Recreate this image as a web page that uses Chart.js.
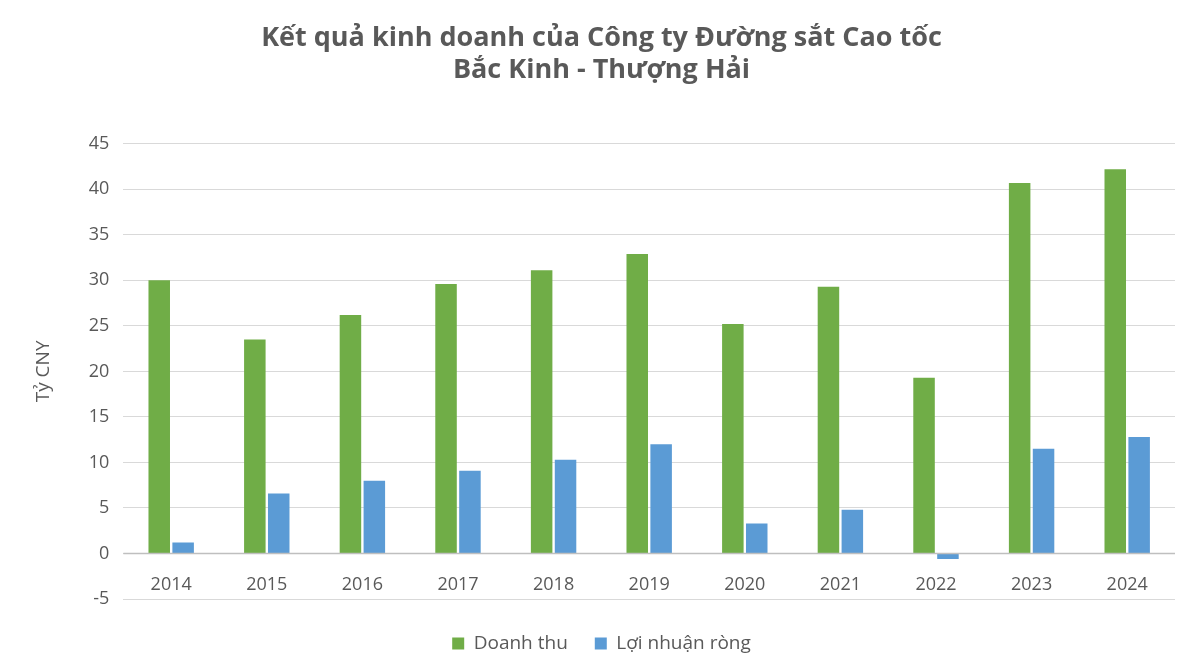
<!DOCTYPE html>
<html><head><meta charset="utf-8">
<script src="https://cdn.jsdelivr.net/npm/chart.js@4"></script>
<style>body{margin:0;background:#fff}</style></head>
<body><canvas id="c" width="1200" height="672"></canvas>
<script>
const categories=["2014","2015","2016","2017","2018","2019","2020","2021","2022","2023","2024"];
const revenue=[30.0,23.5,26.2,29.6,31.1,32.9,25.2,29.3,19.3,40.7,42.2];
const profit=[1.2,6.6,8.0,9.1,10.3,12.0,3.3,4.8,-0.6,11.5,12.8];
const yTicks={min:-5,max:45,step:5};
const labelPlugin={id:'lbl',afterDatasetsDraw(ch){
  const {ctx,scales:{x,y}}=ch;const y0=y.getPixelForValue(0);
  ctx.save();ctx.strokeStyle='#bfbfbf';ctx.lineWidth=1.3;ctx.beginPath();ctx.moveTo(ch.chartArea.left,y0);ctx.lineTo(ch.chartArea.right,y0);ctx.stroke();
  ctx.fillStyle='#595959';ctx.font='18px "Open Sans", sans-serif';ctx.textAlign='center';ctx.textBaseline='middle';
  categories.forEach((c,i)=>ctx.fillText(c,x.getPixelForValue(i),y0+31));ctx.restore();}};
new Chart(document.getElementById('c'),{type:'bar',
data:{labels:categories,datasets:[
{label:'Doanh thu',data:revenue,backgroundColor:'#70AD47',categoryPercentage:0.5,barPercentage:0.9},
{label:'Lợi nhuận ròng',data:profit,backgroundColor:'#5B9BD5',categoryPercentage:0.5,barPercentage:0.9}]},
options:{responsive:false,animation:false,
layout:{padding:{left:28,right:25,top:0,bottom:9}},
plugins:{title:{display:true,text:['Kết quả kinh doanh của Công ty Đường sắt Cao tốc','Bắc Kinh - Thượng Hải'],color:'#595959',font:{size:27,weight:'bold',family:'"Open Sans", sans-serif'},padding:{top:22,bottom:57},lineHeight:1.5},
legend:{position:'bottom',labels:{color:'#595959',boxWidth:12,boxHeight:12,padding:27,font:{size:19,family:'"Open Sans", sans-serif'}}},tooltip:{enabled:false}},
scales:{x:{grid:{display:false},border:{display:false},ticks:{display:false}},
y:{min:yTicks.min,max:yTicks.max,ticks:{stepSize:yTicks.step,color:'#595959',padding:14,font:{size:18,family:'"Open Sans", sans-serif'}},grid:{color:'#d9d9d9',drawTicks:false},border:{display:false},
title:{display:true,text:'Tỷ CNY',color:'#595959',font:{size:19,family:'"Open Sans", sans-serif'},padding:{bottom:20}}}}},
plugins:[labelPlugin]});
</script></body></html>
